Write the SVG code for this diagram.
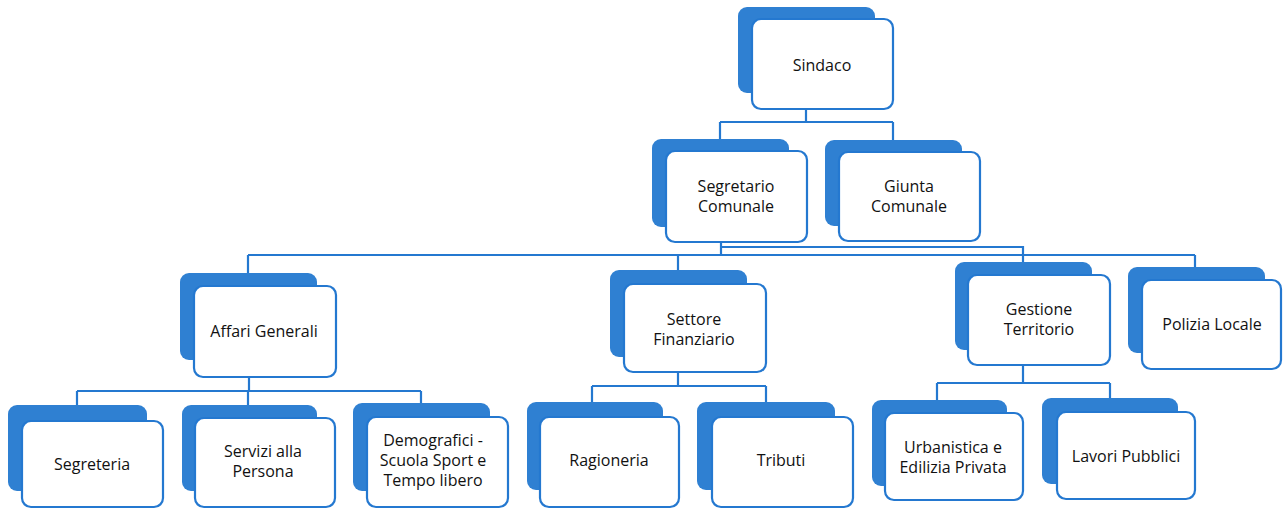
<svg xmlns="http://www.w3.org/2000/svg" width="1283" height="509" viewBox="0 0 1283 509">
<style>
.bk{fill:#2f80d2;}
.fr{fill:#ffffff;stroke:#2478d0;stroke-width:2.2;}
.t{font-family:"Open Sans","Liberation Sans",Arial,sans-serif;font-size:16px;fill:#111111;text-anchor:middle;}
.c{fill:none;stroke:#2478d0;stroke-width:2.2;}
</style>
<rect width="1283" height="509" fill="#ffffff"/>
<g id="connectors">
<path class="c" d="M806 109V122M720 122H893M720 122V140M893 122V141"/>
<path class="c" d="M721 242V255M721 247H1023V262M248 255H1195M248 255V273M678 255V270M1195 255V267"/>
<path class="c" d="M249 377V391M77 391H421M77 391V405M248 391V405M421 391V403"/>
<path class="c" d="M678 372V386M592 386H766M592 386V402M766 386V402"/>
<path class="c" d="M1023 365V383M937 383H1110M937 383V400M1110 383V398"/>
</g>
<g id="sindaco">
<rect class="bk" x="738" y="7" width="137" height="86" rx="9"/>
<rect class="fr" x="752" y="19" width="141" height="90" rx="9"/>
<text class="t" x="822" y="71">Sindaco</text>
</g>
<g id="segretario">
<rect class="bk" x="652" y="139" width="137" height="88" rx="9"/>
<rect class="fr" x="666" y="151" width="141" height="91" rx="9"/>
<text class="t" x="736" y="192">Segretario</text>
<text class="t" x="736" y="212">Comunale</text>
</g>
<g id="giunta">
<rect class="bk" x="825" y="140" width="137" height="86" rx="9"/>
<rect class="fr" x="839" y="152" width="141" height="89" rx="9"/>
<text class="t" x="909" y="192">Giunta</text>
<text class="t" x="909" y="212">Comunale</text>
</g>
<g id="affari">
<rect class="bk" x="180" y="273" width="137" height="87" rx="9"/>
<rect class="fr" x="194" y="286" width="142" height="91" rx="9"/>
<text class="t" x="264" y="337">Affari Generali</text>
</g>
<g id="settore">
<rect class="bk" x="610" y="270" width="137" height="87" rx="9"/>
<rect class="fr" x="624" y="284" width="142" height="88" rx="9"/>
<text class="t" x="694" y="325">Settore</text>
<text class="t" x="694" y="345">Finanziario</text>
</g>
<g id="gestione">
<rect class="bk" x="955" y="262" width="137" height="88" rx="9"/>
<rect class="fr" x="968" y="275" width="142" height="90" rx="9"/>
<text class="t" x="1039" y="315">Gestione</text>
<text class="t" x="1039" y="335">Territorio</text>
</g>
<g id="polizia">
<rect class="bk" x="1128" y="267" width="137" height="86" rx="9"/>
<rect class="fr" x="1142" y="280" width="139" height="89" rx="9"/>
<text class="t" x="1212" y="330">Polizia Locale</text>
</g>
<g id="segreteria">
<rect class="bk" x="8" y="405" width="139" height="86" rx="9"/>
<rect class="fr" x="22" y="421" width="141" height="86" rx="9"/>
<text class="t" x="92" y="470">Segreteria</text>
</g>
<g id="servizi">
<rect class="bk" x="182" y="405" width="135" height="86" rx="9"/>
<rect class="fr" x="195" y="418" width="140" height="89" rx="9"/>
<text class="t" x="263" y="457">Servizi alla</text>
<text class="t" x="263" y="477">Persona</text>
</g>
<g id="demografici">
<rect class="bk" x="353" y="403" width="137" height="88" rx="9"/>
<rect class="fr" x="367" y="417" width="141" height="90" rx="9"/>
<text class="t" x="433" y="446">Demografici -</text>
<text class="t" x="433" y="466">Scuola  Sport e</text>
<text class="t" x="433" y="486">Tempo libero</text>
</g>
<g id="ragioneria">
<rect class="bk" x="527" y="402" width="136" height="88" rx="9"/>
<rect class="fr" x="540" y="417" width="139" height="90" rx="9"/>
<text class="t" x="609" y="466">Ragioneria</text>
</g>
<g id="tributi">
<rect class="bk" x="697" y="402" width="138" height="88" rx="9"/>
<rect class="fr" x="712" y="417" width="141" height="90" rx="9"/>
<text class="t" x="781" y="466">Tributi</text>
</g>
<g id="urbanistica">
<rect class="bk" x="872" y="400" width="135" height="86" rx="9"/>
<rect class="fr" x="885" y="413" width="138" height="87" rx="9"/>
<text class="t" x="953" y="453">Urbanistica e</text>
<text class="t" x="953" y="473">Edilizia Privata</text>
</g>
<g id="lavori">
<rect class="bk" x="1042" y="398" width="136" height="86" rx="9"/>
<rect class="fr" x="1057" y="412" width="138" height="87" rx="9"/>
<text class="t" x="1126" y="462">Lavori Pubblici</text>
</g>
</svg>
